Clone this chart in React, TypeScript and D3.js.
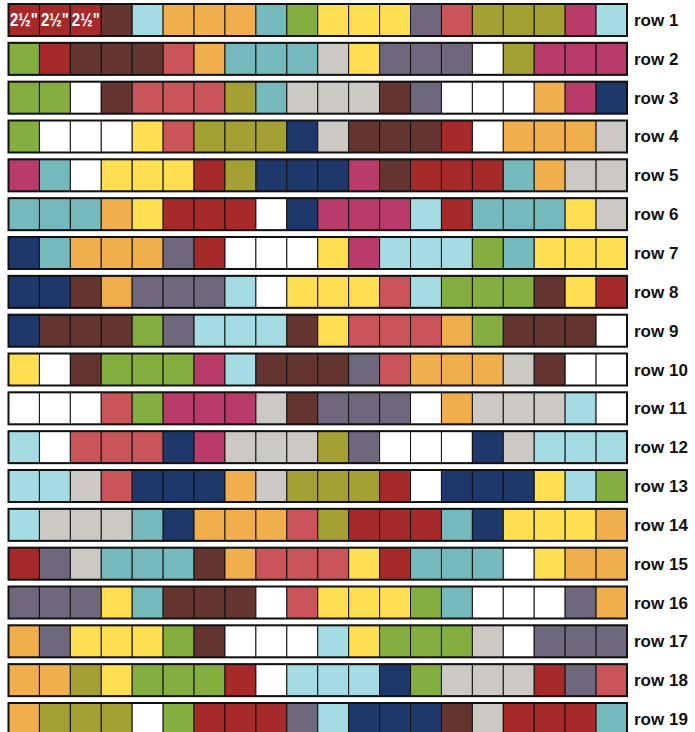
import * as d3 from "d3";

// colour keys used in the quilt rows
const palette: Record<string, string> = {
  R: "#a52a29",
  B: "#653532",
  L: "#a5dce4",
  O: "#f0ae4c",
  T: "#75b9bd",
  G: "#84ae40",
  Y: "#fedf52",
  P: "#6f687d",
  S: "#c9555a",
  K: "#a4a034",
  M: "#b83b69",
  W: "#ffffff",
  N: "#1e386b",
  C: "#ccc8c3",
};

const rowLabels = [
  "row 1", "row 2", "row 3", "row 4", "row 5", "row 6", "row 7", "row 8", "row 9", "row 10",
  "row 11", "row 12", "row 13", "row 14", "row 15", "row 16", "row 17", "row 18", "row 19",
];

const rows = [
  "RRRBLOOOTGYYYPSKKKML",
  "GRBBBSOTTTCYPPPWKMMM",
  "GGWBSSSKTCCCBPWWWOMN",
  "GWWWYSKKKNCBBBRWOOOC",
  "MTWYYYRKNNNMBRRRTOCC",
  "TTTOYRRRWNMMMLRTTTYC",
  "NTOOOPRWWWYMLLLGTYYY",
  "NNBOPPPLWYYYSLGGGBYR",
  "NBBBGPLLLBYSSSOGBBBW",
  "YWBGGGMLBBBPSOOOCBWW",
  "WWWSGMMMCBPPPWOCCCLW",
  "LWSSSNMCCCKPWWWNCLLL",
  "LLCSNNNOCKKKRWNNNYLG",
  "LCCCTNOOOSKRRRTNYYYO",
  "RPCTTTBOSSSYRTTTWYOO",
  "PPPYTBBBWSYYYGTWWWPO",
  "OPYYYGBWWWLYGGGCWPPP",
  "OOKYGGGRWLLLNGCCCRPS",
  "OKKKWGRRRPLNNNBCRRRT",
];

// size note on the first three patches of row 1
const cellNotes = ["2½\"", "2½\"", "2½\""];

const W = 695,
  H = 732;

export default function App() {
  const cols = d3.range(20);
  const x = d3.scaleBand<number>().domain(cols).range([8.5, 627]).padding(0);
  const y = d3
    .scaleBand<string>()
    .domain(rowLabels)
    .range([4, 735])
    .paddingInner(0.176)
    .paddingOuter(0);

  return (
    <svg
      width={W}
      height={H}
      style={{ position: "absolute", left: 0, top: 0, display: "block" }}
      fontFamily="'Liberation Sans', Arial, sans-serif"
    >
      <rect width={W} height={H} fill="#ffffff" />
      {rowLabels.map((lab, ri) => {
        const y0 = y(lab)!;
        const h = y.bandwidth();
        return (
          <g key={lab}>
            {rows[ri].split("").map((k, ci) => (
              <rect
                key={ci}
                x={x(ci)}
                y={y0}
                width={x.bandwidth()}
                height={h}
                fill={palette[k]}
                stroke="#111"
                strokeWidth={1}
              />
            ))}
            <rect
              x={x(0)}
              y={y0}
              width={x(19)! + x.bandwidth() - x(0)!}
              height={h}
              fill="none"
              stroke="#111"
              strokeWidth={2}
            />
            {ri === 0 &&
              cellNotes.map((t, ci) => (
                <text
                  key={ci}
                  x={x(ci)! + 1.5}
                  y={y0 + h / 2 + 6.5}
                  fill="#fff"
                  fontSize={18}
                  fontWeight="bold"
                  textLength={x.bandwidth() - 3}
                  lengthAdjust="spacingAndGlyphs"
                >
                  {t}
                </text>
              ))}
            <text
              x={634}
              y={y0 + h / 2 + 6}
              fontSize={17}
              fontWeight="bold"
              fill="#111"
            >
              {lab}
            </text>
          </g>
        );
      })}
    </svg>
  );
}
